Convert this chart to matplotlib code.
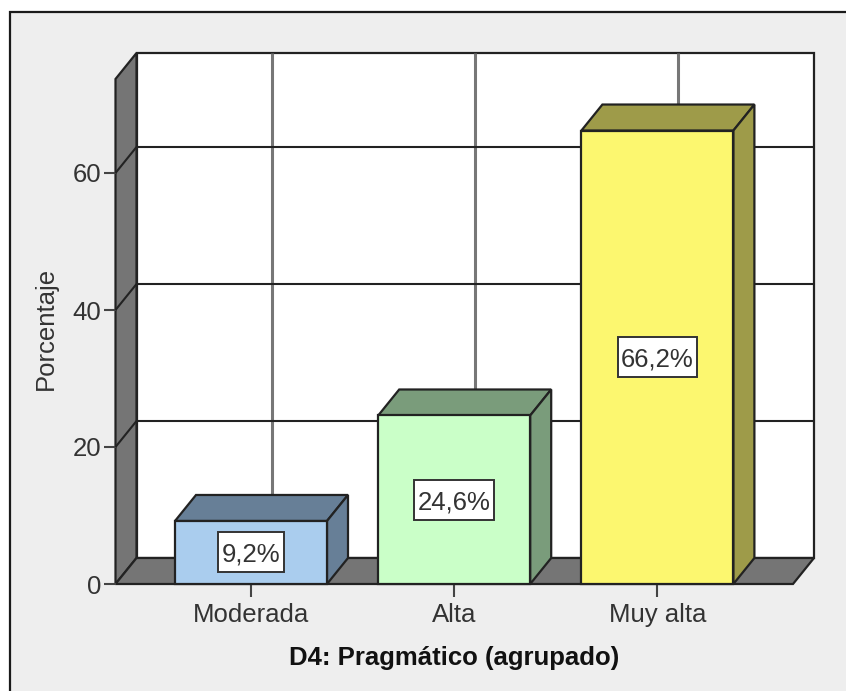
import matplotlib
matplotlib.use("Agg")
import matplotlib.pyplot as plt
from matplotlib.patches import Rectangle

categories = ["Moderada", "Alta", "Muy alta"]
values = [9.2, 24.6, 66.2]
labels = ["9,2%", "24,6%", "66,2%"]
yticks = [0, 20, 40, 60]

front_colors = ["#AACDEE", "#CAFFC8", "#FCF76F"]
side_colors = ["#677F97", "#7A9C7B", "#9E9B49"]

W, H = 846, 691
plt.rcParams["font.family"] = ["Liberation Sans", "DejaVu Sans"]

fig = plt.figure(figsize=(W / 100, H / 100), dpi=100, facecolor="white")
# panel runs off the right and bottom edges of the image
fig.add_artist(Rectangle((9.5 / W, -0.05), 1.1, 1.05 - 11.5 / H, transform=fig.transFigure,
                         facecolor="#EEEEEE", edgecolor="#1A1A1A", linewidth=1.6, zorder=-1))

# front plane of the 3d box, in pixels
left, right, bottom, top = 115.5, 793, 584, 79
ax = fig.add_axes([left / W, 1 - bottom / H, (right - left) / W, (bottom - top) / H])
ax.patch.set_alpha(0)
for s in ax.spines.values():
    s.set_visible(False)

px_x = 203.2  # pixels per category
px_y = 6.85  # pixels per percent
ax.set_xlim((left - 251) / px_x, (right - 251) / px_x)
ax.set_ylim(0, (bottom - top) / px_y)
x0, x1 = ax.get_xlim()
y0, y1 = ax.get_ylim()

dx = 21 / px_x
dy = 26 / px_y
half = 76 / px_x
edge = "#222222"


def poly(xs, ys, color, z):
    ax.fill(xs, ys, facecolor=color, edgecolor=edge, linewidth=1.6, zorder=z,
            clip_on=False, joinstyle="miter")


def line(xs, ys, color=edge, lw=1.5, z=2):
    ax.plot(xs, ys, color=color, linewidth=lw, zorder=z, clip_on=False,
            solid_capstyle="butt")


# back wall, side wall and floor
poly([x0 + dx, x1 + dx, x1 + dx, x0 + dx], [y0 + dy, y0 + dy, y1 + dy, y1 + dy], "white", 1)
poly([x0, x0 + dx, x0 + dx, x0], [y0, y0 + dy, y1 + dy, y1], "#757575", 1.5)
poly([x0, x1, x1 + dx, x0 + dx], [y0, y0, y0 + dy, y0 + dy], "#757575", 1.5)

for i in range(len(categories)):
    line([i + dx, i + dx], [y0 + dy, y1 + dy], color="#777777", lw=2.2)
for t in yticks[1:]:
    line([x0 + dx, x1 + dx], [t + dy, t + dy])
    line([x0, x0 + dx], [t, t + dy], z=1.8)

# bars
renderer = fig.canvas.get_renderer()
for i, v in enumerate(values):
    a, b = i - half, i + half
    poly([a, a + dx, b + dx, b], [v, v + dy, v + dy, v], side_colors[i], 3)
    poly([b, b + dx, b + dx, b], [0, dy, v + dy, v], side_colors[i], 3)
    poly([a, b, b, a], [0, 0, v, v], front_colors[i], 4)
    txt = ax.text(i, v / 2, labels[i], ha="center", va="center_baseline", fontsize=18.5,
                  color="#333333", zorder=6)
    # label box: snug at the sides, roomy above and below
    box_w = (txt.get_window_extent(renderer).width + 7) / px_x
    box_h = 40 / px_y
    ax.add_patch(Rectangle((i - box_w / 2, v / 2 - box_h / 2), box_w, box_h, facecolor="white",
                           edgecolor="#333333", linewidth=1.4, zorder=5))

ax.set_xticks(range(len(categories)), categories)
ax.set_yticks(yticks)
ax.tick_params(axis="y", length=9, width=1.5, color="#444444", labelcolor="#333333",
               labelsize=18.5, pad=1)
ax.tick_params(axis="x", length=9.4, width=1.5, color="#444444", labelcolor="#333333",
               labelsize=18.5, pad=4)
ax.set_xlabel("D4: Pragmático (agrupado)", fontsize=18.5, fontweight="bold", color="#111111",
              labelpad=14)
ax.set_ylabel("Porcentaje", fontsize=18.5, color="#333333", labelpad=11, y=0.507)

fig.savefig("out.png", dpi=100, facecolor=fig.get_facecolor())
